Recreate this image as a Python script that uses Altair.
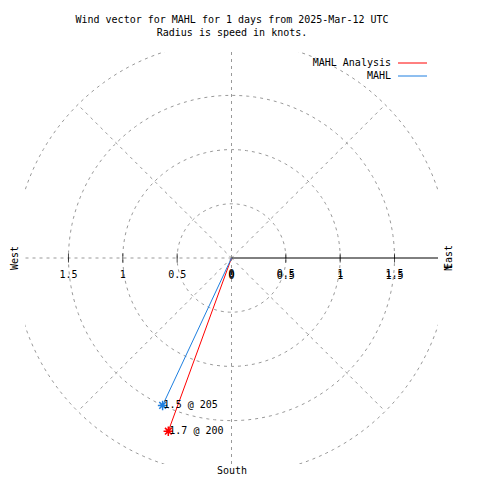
import altair as alt
import numpy as np
import pandas as pd

# ---- data ----
series = ["MAHL Analysis", "MAHL"]
speeds = [1.7, 1.5]
directions = [200, 205]
series_colors = ["#ff0000", "#1e7fe0"]

ring_radii = [0.5, 1.0, 1.5, 2.0]
spoke_angles = [45, 90, 135, 180, 225, 270, 315]
tick_pos = [-1.5, -1.0, -0.5, 0.5, 1.0, 1.5]
left_label_pos = [-1.5, -1.0, -0.5, 0.0]
left_label_txt = ["1.5", "1", "0.5", "0"]
right_label_pos = [0.0, 0.5, 1.0, 1.5]
right_label_txt = ["0", "0.5", "1", "1.5"]
title_lines = ["Wind vector for MAHL for 1 days from 2025-Mar-12 UTC", "Radius is speed in knots."]

FONT = "DejaVu Sans Mono"
FS = 10
GRID = "#999999"
LIM = 1.9

xs = alt.Scale(domain=[-LIM, LIM], nice=False, zero=False)
ys = alt.Scale(domain=[-LIM, LIM], nice=False, zero=False)

# grid rings
ang = np.radians(np.arange(0, 361, 2))
ring_df = pd.concat([
    pd.DataFrame({"ring": r, "a": np.degrees(ang), "x": r * np.cos(ang), "y": r * np.sin(ang)})
    for r in ring_radii
])
rings = alt.Chart(ring_df).mark_line(
    clip=True, color=GRID, strokeDash=[3, 4], strokeWidth=1
).encode(
    x=alt.X("x:Q", scale=xs, axis=None),
    y=alt.Y("y:Q", scale=ys, axis=None),
    detail="ring:N",
    order="a:Q",
)

# dashed spokes
spoke_df = pd.DataFrame({"ang": spoke_angles})
spokes = alt.Chart(spoke_df).transform_calculate(
    x0="0", y0="0",
    x1="2*cos(datum.ang*PI/180)", y1="2*sin(datum.ang*PI/180)"
).mark_rule(clip=True, color=GRID, strokeDash=[3, 4], strokeWidth=1).encode(
    x=alt.X("x0:Q", scale=xs, axis=None),
    y=alt.Y("y0:Q", scale=ys, axis=None),
    x2="x1:Q",
    y2="y1:Q",
)

# solid polar axis (east)
axis_df = pd.DataFrame({"x0": [0.0], "x1": [2.0], "y0": [0.0]})
axis_line = alt.Chart(axis_df).mark_rule(clip=True, color="black", strokeWidth=1).encode(
    x=alt.X("x0:Q", scale=xs, axis=None),
    x2="x1:Q",
    y=alt.Y("y0:Q", scale=ys, axis=None),
)

tick_df = pd.DataFrame({"x": tick_pos, "y": [0.0] * len(tick_pos)})
ticks = alt.Chart(tick_df).mark_tick(orient="vertical", size=9, thickness=1, color="black").encode(
    x=alt.X("x:Q", scale=xs, axis=None),
    y=alt.Y("y:Q", scale=ys, axis=None),
)

lab_l = pd.DataFrame({"x": left_label_pos, "y": [0.0] * 4, "t": left_label_txt})
lab_r = pd.DataFrame({"x": right_label_pos, "y": [0.0] * 4, "t": right_label_txt})
labels_l = alt.Chart(lab_l).mark_text(font=FONT, fontSize=FS, dy=17, align="center", baseline="middle").encode(
    x=alt.X("x:Q", scale=xs, axis=None), y=alt.Y("y:Q", scale=ys, axis=None), text="t:N")
labels_r1 = alt.Chart(lab_r).mark_text(font=FONT, fontSize=FS, dy=16, align="center", baseline="middle").encode(
    x=alt.X("x:Q", scale=xs, axis=None), y=alt.Y("y:Q", scale=ys, axis=None), text="t:N")
labels_r2 = alt.Chart(lab_r).mark_text(font=FONT, fontSize=FS, dy=18, align="center", baseline="middle").encode(
    x=alt.X("x:Q", scale=xs, axis=None), y=alt.Y("y:Q", scale=ys, axis=None), text="t:N")

# wind vectors
wind_df = pd.DataFrame({"series": series, "speed": speeds, "dir": directions})
color_scale = alt.Scale(domain=series, range=series_colors)
wind_base = alt.Chart(wind_df).transform_calculate(
    x0="0", y0="0",
    x1="datum.speed*sin(datum.dir*PI/180)",
    y1="datum.speed*cos(datum.dir*PI/180)",
    lab="format(datum.speed, '.1f') + ' @ ' + datum.dir",
)
vectors = wind_base.mark_rule(strokeWidth=1).encode(
    x=alt.X("x0:Q", scale=xs, axis=None),
    y=alt.Y("y0:Q", scale=ys, axis=None),
    x2="x1:Q", y2="y1:Q",
    color=alt.Color("series:N", scale=color_scale, legend=None),
)
STAR = "M-1,0L1,0M0,-1L0,1M-0.7,-0.7L0.7,0.7M-0.7,0.7L0.7,-0.7"
stars = wind_base.mark_point(shape=STAR, size=90, strokeWidth=1.5, filled=False, opacity=1).encode(
    x=alt.X("x1:Q", scale=xs, axis=None),
    y=alt.Y("y1:Q", scale=ys, axis=None),
    color=alt.Color("series:N", scale=color_scale, legend=None),
)
vlabels = wind_base.mark_text(font=FONT, fontSize=FS, align="left", baseline="middle", dx=1, color="black").encode(
    x=alt.X("x1:Q", scale=xs, axis=None),
    y=alt.Y("y1:Q", scale=ys, axis=None),
    text="lab:N",
)

# legend
leg_df = pd.DataFrame({"series": series, "row": [0, 1]})
leg_y = alt.Y("row:Q", scale=alt.Scale(domain=[0, 1], range=[11, 24], nice=False, zero=False), axis=None)
leg_text = alt.Chart(leg_df).mark_text(font=FONT, fontSize=FS, align="right", baseline="middle", color="black").encode(
    x=alt.value(366), y=leg_y, text="series:N",
)
leg_lines = alt.Chart(leg_df).mark_rule(strokeWidth=1).encode(
    x=alt.value(373), x2=alt.value(402), y=leg_y,
    color=alt.Color("series:N", scale=color_scale, legend=None),
)

# titles and compass labels
title_df = pd.DataFrame({"t": title_lines, "row": [0, 1]})
titles = alt.Chart(title_df).mark_text(font=FONT, fontSize=FS, align="center", baseline="middle", color="black").encode(
    x=alt.value(207),
    y=alt.Y("row:Q", scale=alt.Scale(domain=[0, 1], range=[-32, -19], nice=False, zero=False), axis=None),
    text="t:N",
)
west = alt.Chart(pd.DataFrame({"t": ["West"]})).mark_text(font=FONT, fontSize=FS, angle=270, align="center", baseline="middle").encode(
    x=alt.value(-10), y=alt.value(206), text="t:N")
east = alt.Chart(pd.DataFrame({"t": ["East"]})).mark_text(font=FONT, fontSize=FS, angle=270, align="center", baseline="middle").encode(
    x=alt.value(424), y=alt.value(205), text="t:N")
north = alt.Chart(pd.DataFrame({"t": ["N"]})).mark_text(font=FONT, fontSize=FS, angle=270, align="center", baseline="middle").encode(
    x=alt.value(424), y=alt.value(216), text="t:N")
south = alt.Chart(pd.DataFrame({"t": ["South"]})).mark_text(font=FONT, fontSize=FS, align="center", baseline="middle").encode(
    x=alt.value(207), y=alt.value(419), text="t:N")

chart = alt.layer(
    rings, spokes, axis_line, ticks, labels_l, labels_r1, labels_r2,
    vectors, stars, vlabels, leg_text, leg_lines, titles, west, east, north, south
).resolve_scale(y="independent").properties(
    width=413, height=412,
    autosize=alt.AutoSizeParams(type="none"),
    padding={"left": 17, "top": 44, "right": 34, "bottom": 12},
    background="white",
).configure_view(strokeWidth=0)

chart.save("out.html", embed_options={"renderer": "svg", "actions": False})
